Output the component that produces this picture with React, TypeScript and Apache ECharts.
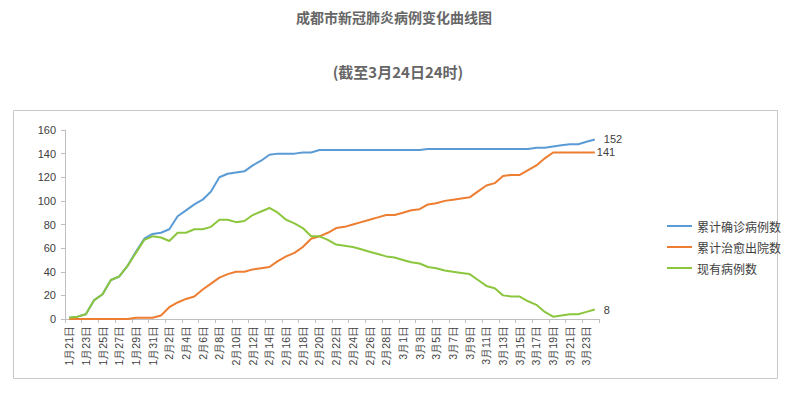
import React, { useEffect, useRef } from "react";
import * as echarts from "echarts";

const titleText = "成都市新冠肺炎病例变化曲线图";
const subtitleText = "(截至3月24日24时)";

const dates = [
  "1月21日", "1月22日", "1月23日", "1月24日", "1月25日", "1月26日", "1月27日", "1月28日", "1月29日", "1月30日", "1月31日",
  "2月1日", "2月2日", "2月3日", "2月4日", "2月5日", "2月6日", "2月7日", "2月8日", "2月9日", "2月10日",
  "2月11日", "2月12日", "2月13日", "2月14日", "2月15日", "2月16日", "2月17日", "2月18日", "2月19日", "2月20日",
  "2月21日", "2月22日", "2月23日", "2月24日", "2月25日", "2月26日", "2月27日", "2月28日", "2月29日",
  "3月1日", "3月2日", "3月3日", "3月4日", "3月5日", "3月6日", "3月7日", "3月8日", "3月9日", "3月10日",
  "3月11日", "3月12日", "3月13日", "3月14日", "3月15日", "3月16日", "3月17日", "3月18日", "3月19日", "3月20日",
  "3月21日", "3月22日", "3月23日", "3月24日",
];

const seriesNames = ["累计确诊病例数", "累计治愈出院数", "现有病例数"];

const confirmed = [
  1, 2, 4, 16, 21, 33, 36, 45, 57, 68, 72,
  73, 76, 87, 92, 97, 101, 108, 120, 123, 124,
  125, 130, 134, 139, 140, 140, 140, 141, 141, 143,
  143, 143, 143, 143, 143, 143, 143, 143, 143,
  143, 143, 143, 144, 144, 144, 144, 144, 144, 144,
  144, 144, 144, 144, 144, 144, 145, 145, 146, 147,
  148, 148, 150, 152,
];

const cured = [
  0, 0, 0, 0, 0, 0, 0, 0, 1, 1, 1,
  3, 10, 14, 17, 19, 25, 30, 35, 38, 40,
  40, 42, 43, 44, 49, 53, 56, 61, 68, 70,
  73, 77, 78, 80, 82, 84, 86, 88, 88,
  90, 92, 93, 97, 98, 100, 101, 102, 103, 108,
  113, 115, 121, 122, 122, 126, 130, 136, 141, 141,
  141, 141, 141, 141,
];

const current = [
  1, 2, 4, 16, 21, 33, 36, 45, 56, 67, 70,
  69, 66, 73, 73, 76, 76, 78, 84, 84, 82,
  83, 88, 91, 94, 90, 84, 81, 77, 70, 70,
  67, 63, 62, 61, 59, 57, 55, 53, 52,
  50, 48, 47, 44, 43, 41, 40, 39, 38, 33,
  28, 26, 20, 19, 19, 15, 12, 6, 2, 3,
  4, 4, 6, 8,
];

const colors = ["#5B9BD5", "#ED7D31", "#8CC63F"];
const endLabelDistance = [9, 2, 9];

export default function App() {
  const ref = useRef<HTMLDivElement>(null);

  useEffect(() => {
    if (!ref.current) return;
    const chart = echarts.init(ref.current, undefined, { renderer: "svg" });
    const allSeries = [confirmed, cured, current];
    const titleStyle = {
      align: "center",
      verticalAlign: "middle",
      textAlign: "center",
      textVerticalAlign: "middle",
      fontWeight: "bold",
      fontFamily: "Noto Sans CJK SC, sans-serif",
      fill: "#666666",
    };
    chart.setOption({
      animation: false,
      backgroundColor: "#ffffff",
      color: colors,
      graphic: [
        {
          type: "rect",
          shape: { x: 13.5, y: 110.5, width: 764, height: 268 },
          style: { fill: "none", stroke: "#c9c9c9", lineWidth: 1 },
          silent: true,
        },
        {
          type: "text",
          x: 394,
          y: 17,
          style: { ...titleStyle, text: titleText, fontSize: 14 },
        },
        {
          type: "text",
          x: 398,
          y: 71,
          style: { ...titleStyle, text: subtitleText, fontSize: 15 },
        },
      ],
      legend: {
        orient: "vertical",
        left: 662,
        top: 215,
        itemGap: 9,
        itemWidth: 25,
        itemHeight: 2,
        icon: "rect",
        textStyle: {
          fontSize: 12,
          color: "#404040",
          fontFamily: "Noto Sans CJK SC, sans-serif",
        },
        data: seriesNames,
      },
      grid: { left: 65, right: 196, top: 130, bottom: 76, containLabel: false },
      xAxis: {
        type: "category",
        data: dates,
        boundaryGap: true,
        axisLine: { lineStyle: { color: "#bfbfbf" } },
        axisTick: { show: true, interval: 1, length: 4, lineStyle: { color: "#bfbfbf" } },
        axisLabel: {
          interval: 1,
          rotate: 90,
          margin: 7,
          fontSize: 10.5,
          color: "#404040",
          fontFamily: "Liberation Sans, Arial, sans-serif",
        },
        splitLine: { show: false },
      },
      yAxis: {
        type: "value",
        min: 0,
        max: 160,
        interval: 20,
        axisLine: { show: true, lineStyle: { color: "#bfbfbf" } },
        axisTick: { show: true, length: 4, lineStyle: { color: "#bfbfbf" } },
        axisLabel: {
          margin: 9,
          fontSize: 11,
          color: "#404040",
          fontFamily: "Liberation Sans, Arial, sans-serif",
        },
        splitLine: { show: false },
      },
      series: allSeries.map((vals, k) => ({
        name: seriesNames[k],
        type: "line",
        data: vals,
        showSymbol: false,
        symbol: "none",
        lineStyle: { width: 2, color: colors[k] },
        itemStyle: { color: colors[k] },
        endLabel: {
          show: true,
          distance: endLabelDistance[k],
          formatter: "{c}",
          color: "#404040",
          fontSize: 11,
          fontFamily: "Liberation Sans, Arial, sans-serif",
        },
      })),
    });
    return () => chart.dispose();
  }, []);

  return (
    <div
      ref={ref}
      style={{ position: "absolute", left: 0, top: 0, width: 795, height: 395 }}
    />
  );
}
